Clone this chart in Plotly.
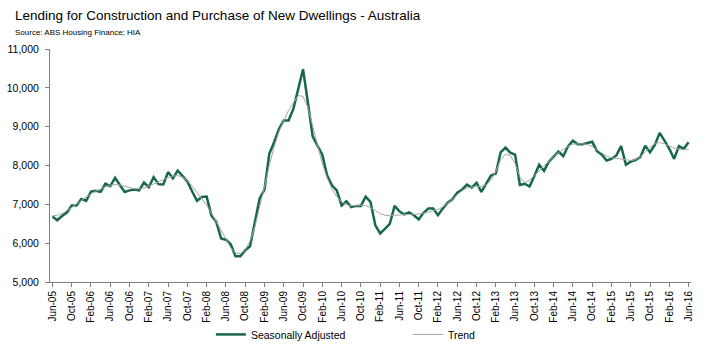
import plotly.graph_objects as go

months = []
mnames = ["Jan","Feb","Mar","Apr","May","Jun","Jul","Aug","Sep","Oct","Nov","Dec"]
y, m = 2005, 6
for _ in range(133):
    months.append(f"{mnames[m-1]}-{str(y)[2:]}")
    m += 1
    if m > 12:
        m = 1
        y += 1

seasonally_adjusted = [
    6690, 6590, 6700, 6790, 6970, 6970, 7140,
    7090, 7330, 7350, 7320, 7530, 7470, 7680, 7500, 7320, 7360, 7380, 7360,
    7560, 7440, 7700, 7520, 7510, 7830, 7670, 7870, 7740, 7590, 7330, 7090,
    7190, 7200, 6710, 6550, 6120, 6090, 5970, 5660, 5660, 5820, 5920, 6500,
    7150, 7380, 8300, 8600, 8940, 9160, 9160, 9460, 10010, 10480, 9630, 8750,
    8510, 8280, 7740, 7490, 7360, 6970, 7080, 6930, 6960, 6960, 7200, 7060,
    6460, 6250, 6370, 6500, 6960, 6820, 6740, 6790, 6720, 6610, 6780, 6890,
    6890, 6720, 6890, 7040, 7130, 7300, 7380, 7510, 7430, 7555, 7320, 7530,
    7740, 7790, 8340, 8460, 8330, 8280, 7500, 7530, 7460, 7730, 8020, 7860,
    8100, 8230, 8360, 8240, 8500, 8640, 8550, 8550, 8580, 8610, 8370, 8280,
    8130, 8170, 8260, 8500, 8020, 8100, 8140, 8220, 8510, 8340, 8530, 8840,
    8640, 8430, 8170, 8500, 8430, 8600,
]

trend = [
    6700, 6720, 6760, 6830, 6920, 7010, 7100,
    7190, 7270, 7340, 7400, 7450, 7490, 7510, 7500, 7470, 7430, 7400, 7400,
    7420, 7470, 7530, 7590, 7640, 7690, 7730, 7740, 7700, 7610, 7470, 7310,
    7150, 6980, 6780, 6550, 6300, 6070, 5880, 5750, 5730, 5820, 6050, 6420,
    6900, 7450, 8000, 8480, 8870, 9170, 9420, 9620, 9800, 9780, 9500, 9020,
    8500, 8050, 7680, 7400, 7200, 7060, 6990, 6960, 6970, 6980, 6970, 6920,
    6840, 6760, 6720, 6710, 6720, 6730, 6740, 6740, 6740, 6750, 6770, 6800,
    6830, 6870, 6930, 7020, 7130, 7250, 7350, 7420, 7450, 7460, 7460, 7500,
    7620, 7850, 8150, 8290, 8260, 8050, 7700, 7560, 7620, 7740, 7880, 8000,
    8120, 8230, 8330, 8420, 8500, 8550, 8560, 8560, 8540, 8490, 8400, 8310,
    8240, 8200, 8180, 8160, 8140, 8130, 8150, 8230, 8350, 8470, 8560, 8590,
    8560, 8500, 8450, 8420, 8410, 8420,
]

x_idx = list(range(len(months)))
tick_idx = x_idx[::4]
tick_labels = [months[i] for i in tick_idx]

font_main = "Liberation Sans, Arial, sans-serif"

fig = go.Figure()
fig.add_trace(go.Scatter(x=x_idx, y=seasonally_adjusted, mode="lines",
                         name="Seasonally Adjusted",
                         line=dict(color="#17684a", width=2.5)))
fig.add_trace(go.Scatter(x=x_idx, y=trend, mode="lines", name="Trend",
                         line=dict(color="#a6a6a6", width=1)))

fig.update_layout(
    width=710, height=361,
    margin=dict(l=50, r=19, t=49, b=76),
    paper_bgcolor="white", plot_bgcolor="white",
    font=dict(family=font_main, size=11, color="#000000"),
    showlegend=True,
    legend=dict(orientation="h", x=0.251, xanchor="left", y=-0.225, yanchor="middle",
                font=dict(size=10.5), entrywidth=152, itemwidth=30,
                bgcolor="rgba(0,0,0,0)"),
    annotations=[
        dict(text="Lending for Construction and Purchase of New Dwellings - Australia",
             xref="paper", yref="paper", x=-0.0577, y=1.145, xanchor="left", yanchor="middle",
             showarrow=False, font=dict(family=font_main, size=13.5, color="#000000")),
        dict(text="Source: ABS Housing Finance; HIA",
             xref="paper", yref="paper", x=-0.0577, y=1.072, xanchor="left", yanchor="middle",
             showarrow=False, font=dict(family=font_main, size=8, color="#000000")),
    ],
)
fig.update_xaxes(range=[-0.5, 132.5], tickmode="array", tickvals=tick_idx, ticktext=tick_labels,
                 tickangle=-90, showline=True, linecolor="#808080", linewidth=1,
                 ticks="outside", ticklen=4, tickcolor="#808080", showgrid=False,
                 zeroline=False, tickfont=dict(size=10), automargin=False)
fig.update_yaxes(range=[5000, 11000], dtick=1000, tickformat=",", showline=True,
                 linecolor="#808080", linewidth=1, ticks="outside", ticklen=4,
                 tickcolor="#808080", showgrid=False, zeroline=False,
                 tickfont=dict(size=10.5), ticklabelstandoff=4, automargin=False)

fig.write_html("out.html", config={"displayModeBar": False},
               post_script="document.body.style.margin='0';document.body.style.overflow='hidden';")
